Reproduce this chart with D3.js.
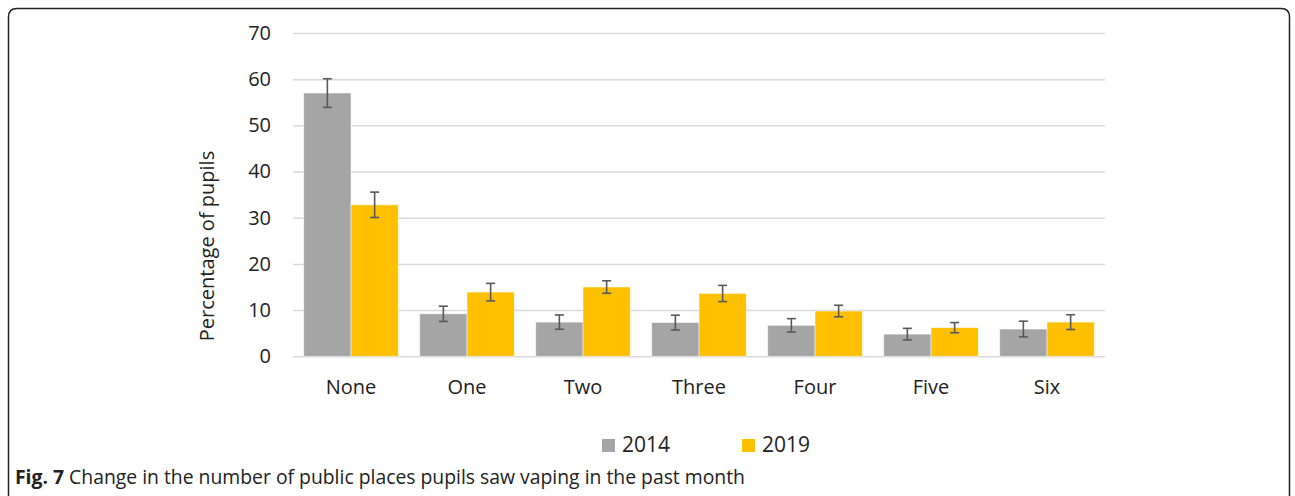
<!DOCTYPE html>
<html>
<head>
<meta charset="utf-8">
<script src="https://cdn.jsdelivr.net/npm/d3@7"></script>
<style>
  html, body { margin: 0; padding: 0; background: #fff; }
  svg { display: block; }
</style>
</head>
<body>
<svg id="chart" width="1295" height="496"></svg>
<script>
// Number of public places where pupils saw vaping in the past month
const categories = ["None", "One", "Two", "Three", "Four", "Five", "Six"];
const seriesNames = ["2014", "2019"];
const values2014 = [57.0, 9.2, 7.4, 7.3, 6.7, 4.8, 5.9];
const values2019 = [32.8, 13.9, 15.0, 13.6, 9.8, 6.2, 7.4];
const err2014 = [3.1, 1.65, 1.55, 1.6, 1.45, 1.25, 1.7];
const err2019 = [2.75, 1.9, 1.35, 1.75, 1.25, 1.1, 1.6];
const yTicks = [0, 10, 20, 30, 40, 50, 60, 70];
const colors = ["#A5A5A5", "#FFC000"];

const svg = d3.select("#chart");
const font = "'Open Sans', 'DejaVu Sans', sans-serif";

// Figure frame, open at the bottom edge
svg.append("path")
  .attr("d", "M8.5,497 L8.5,17 Q8.5,8.5 17,8.5 L1281,8.5 Q1289.5,8.5 1289.5,17 L1289.5,497")
  .attr("fill", "none")
  .attr("stroke", "#222")
  .attr("stroke-width", 1.5);

const plotLeft = 293, plotRight = 1105;
const y = d3.scaleLinear().domain([0, 70]).range([356.3, 33]);
const x = d3.scaleBand().domain(categories).range([plotLeft, plotRight])
  .paddingInner(0.185).paddingOuter(0.0925);
const xs = d3.scaleBand().domain(seriesNames).range([0, x.bandwidth()]);

// Gridlines + tick labels through a left axis
const yAxis = d3.axisLeft(y).tickValues(yTicks).tickSize(-(plotRight - plotLeft)).tickPadding(22);
const gy = svg.append("g").attr("transform", `translate(${plotLeft},0)`).call(yAxis);
gy.select(".domain").remove();
gy.selectAll(".tick line").attr("stroke", "#d9d9d9").attr("stroke-width", 1.5);
gy.selectAll(".tick text")
  .attr("font-family", font).attr("font-size", 20).attr("fill", "#222");

// Category axis labels
const xAxis = d3.axisBottom(x).tickSize(0).tickPadding(24);
const gx = svg.append("g").attr("transform", `translate(0,${y(0)})`).call(xAxis);
gx.select(".domain").remove();
gx.selectAll(".tick text")
  .attr("font-family", font).attr("font-size", 20).attr("fill", "#222");

// Bars and error bars
const rows = categories.map((c, i) => ({
  cat: c,
  items: [
    { s: "2014", v: values2014[i], e: err2014[i], color: colors[0] },
    { s: "2019", v: values2019[i], e: err2019[i], color: colors[1] }
  ]
}));

const groups = svg.append("g").selectAll("g").data(rows).join("g")
  .attr("transform", d => `translate(${x(d.cat)},0)`);

groups.selectAll("rect").data(d => d.items).join("rect")
  .attr("x", d => xs(d.s))
  .attr("y", d => y(d.v))
  .attr("width", xs.bandwidth())
  .attr("height", d => y(0) - y(d.v))
  .attr("fill", d => d.color)
  .attr("stroke", "#fff")
  .attr("stroke-opacity", 0.6)
  .attr("stroke-width", 0.8);

const eb = groups.selectAll("g.err").data(d => d.items).join("g").attr("class", "err")
  .attr("stroke", "#595959").attr("stroke-width", 1.6);
const cx = d => xs(d.s) + xs.bandwidth() / 2;
eb.append("line")
  .attr("x1", cx).attr("x2", cx)
  .attr("y1", d => y(d.v + d.e)).attr("y2", d => y(d.v - d.e));
eb.append("line")
  .attr("x1", d => cx(d) - 4.5).attr("x2", d => cx(d) + 4.5)
  .attr("y1", d => y(d.v + d.e)).attr("y2", d => y(d.v + d.e));
eb.append("line")
  .attr("x1", d => cx(d) - 4.5).attr("x2", d => cx(d) + 4.5)
  .attr("y1", d => y(d.v - d.e)).attr("y2", d => y(d.v - d.e));

// Y-axis title
svg.append("text")
  .attr("transform", "translate(214,246) rotate(-90)")
  .attr("text-anchor", "middle")
  .attr("font-family", font).attr("font-size", 20).attr("fill", "#222")
  .text("Percentage of pupils");

// Legend
const legendX = [602, 742];
const leg = svg.append("g").selectAll("g").data(seriesNames).join("g")
  .attr("transform", (d, i) => `translate(${legendX[i]},439)`);
leg.append("rect").attr("width", 13).attr("height", 13)
  .attr("fill", (d, i) => colors[i]);
leg.append("text").attr("x", 20).attr("y", 12.5)
  .attr("font-family", font).attr("font-size", 21).attr("fill", "#222")
  .text(d => d);

// Caption
const cap = svg.append("text")
  .attr("x", 15).attr("y", 484)
  .attr("font-family", font).attr("font-size", 20).attr("fill", "#222")
  .attr("textLength", 730).attr("lengthAdjust", "spacingAndGlyphs");
cap.append("tspan").attr("font-weight", "bold").text("Fig. 7");
cap.append("tspan").text(" Change in the number of public places pupils saw vaping in the past month");
</script>
</body>
</html>
